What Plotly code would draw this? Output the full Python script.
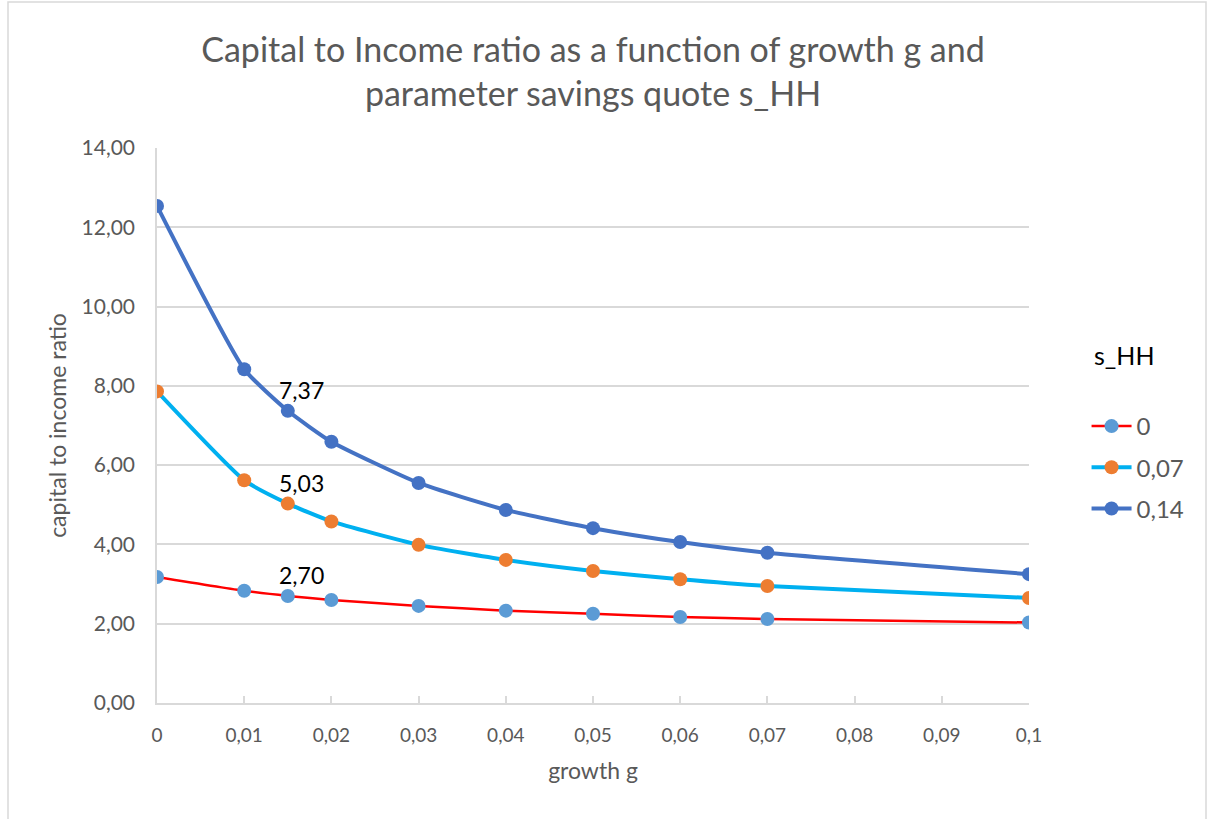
import plotly.graph_objects as go

growth = [0, 0.01, 0.015, 0.02, 0.03, 0.04, 0.05, 0.06, 0.07, 0.1]
s_hh_0 = [3.18, 2.83, 2.70, 2.60, 2.45, 2.33, 2.25, 2.17, 2.12, 2.03]
s_hh_007 = [7.86, 5.62, 5.03, 4.58, 3.99, 3.61, 3.33, 3.12, 2.95, 2.65]
s_hh_014 = [12.54, 8.42, 7.37, 6.59, 5.55, 4.87, 4.41, 4.06, 3.79, 3.25]
series_names = ["0", "0,07", "0,14"]
x_tick_vals = [0, 0.01, 0.02, 0.03, 0.04, 0.05, 0.06, 0.07, 0.08, 0.09, 0.1]
x_tick_text = ["0", "0,01", "0,02", "0,03", "0,04", "0,05", "0,06", "0,07", "0,08", "0,09", "0,1"]
label_index = 2

FONT = "Lato"
GRAY = "#595959"

series = [
    (s_hh_0, series_names[0], "#FF0000", 2.5, "#5B9BD5"),
    (s_hh_007, series_names[1], "#00B0F0", 4, "#ED7D31"),
    (s_hh_014, series_names[2], "#4472C4", 4, "#4472C4"),
]

fig = go.Figure()
for i, (ys, name, lc, lw, mc) in enumerate(series):
    fig.add_trace(go.Scatter(
        x=growth, y=ys, name=name, mode="lines+markers",
        line=dict(color=lc, width=lw, shape="spline", smoothing=0.5),
        marker=dict(color=mc, size=14, line=dict(width=0)),
        legendgroup=f"g{i}",
    ))

for ys, name, lc, lw, mc in series:
    v = ys[label_index]
    fig.add_annotation(
        x=growth[label_index], y=v, text=f"{v:.2f}".replace(".", ","),
        showarrow=False, xanchor="center", yanchor="bottom",
        xshift=14, yshift=5, font=dict(family=FONT, size=23, color="#000000"),
    )

# legend heading
fig.add_annotation(
    x=(1124 - 157) / 872, y=(703 - 355) / 555, xref="paper", yref="paper",
    text="s_HH", showarrow=False, xanchor="center", yanchor="middle",
    font=dict(family=FONT, size=25, color="#000000"),
)

fig.add_shape(type="rect", xref="paper", yref="paper",
              x0=(8 - 157) / 872, x1=(1206 - 157) / 872,
              y0=-0.3, y1=(703 - 2) / 555,
              line=dict(color="#D9D9D9", width=1.5), fillcolor="rgba(0,0,0,0)", layer="below")

fig.update_layout(
    width=1208, height=819,
    margin=dict(l=157, r=179, t=148, b=116),
    paper_bgcolor="white", plot_bgcolor="white",
    separators=",.",
    font=dict(family=FONT, color=GRAY, size=20),
    title=dict(
        text="Capital to Income ratio as a function of growth g and<br>parameter savings quote s_HH",
        x=0.5, xref="paper", xanchor="center", y=0.924, yanchor="middle",
        font=dict(family=FONT, size=34, color=GRAY),
    ),
    xaxis=dict(
        range=[0, 0.1], tickvals=x_tick_vals, ticktext=x_tick_text,
        showgrid=False, zeroline=False, showline=True, linecolor="#D9D9D9", linewidth=1.5,
        ticks="inside", ticklen=7, tickcolor="#D9D9D9", tickwidth=1.5,
        ticklabelstandoff=14,
        tickfont=dict(family=FONT, size=19, color=GRAY),
        title=dict(text="growth g", font=dict(family=FONT, size=23, color=GRAY), standoff=18),
    ),
    yaxis=dict(
        range=[0, 14], dtick=2, tickformat=".2f",
        showgrid=True, gridcolor="#D9D9D9", gridwidth=1.5, zeroline=False,
        showline=True, linecolor="#D9D9D9", linewidth=1.5,
        ticklabelstandoff=16,
        tickfont=dict(family=FONT, size=21, color=GRAY), ticks="",
        title=dict(text="capital to income ratio", font=dict(family=FONT, size=23, color=GRAY), standoff=8),
    ),
    legend=dict(
        x=1.066, xanchor="left", y=(703 - 404) / 555, yanchor="top",
        font=dict(family=FONT, size=24, color=GRAY),
        tracegroupgap=7, itemwidth=40,
    ),
    showlegend=True,
)

fig.write_html("out.html")
